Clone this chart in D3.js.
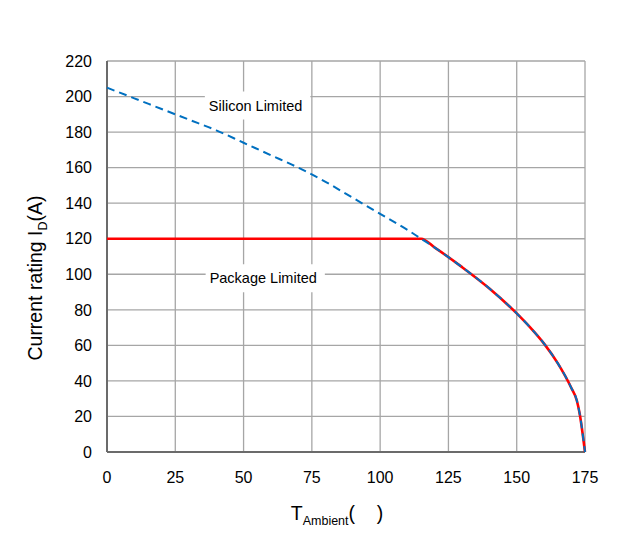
<!DOCTYPE html>
<html>
<head>
<meta charset="utf-8">
<script src="https://cdn.jsdelivr.net/npm/d3@7"></script>
<style>
  html, body { margin: 0; padding: 0; background: #fff; }
  svg { display: block; font-family: "Liberation Sans", Arial, sans-serif; }
</style>
</head>
<body>
<svg id="chart" width="644" height="546"></svg>
<script>
// ── Data ─────────────────────────────────────────────────────────────────────
const xTicks = [0, 25, 50, 75, 100, 125, 150, 175];
const yTicks = [0, 20, 40, 60, 80, 100, 120, 140, 160, 180, 200, 220];

const siliconT = [0, 10, 20, 30, 40, 50, 60, 70, 80, 90, 100, 110, 115, 120, 130, 140, 150, 155, 160, 165, 170, 172, 173, 175];
const siliconI = [205, 199, 193, 187, 181, 174, 167, 160, 152, 143, 134, 125, 120, 115, 104, 92, 78, 70, 61, 50, 36, 29, 22, 0];

const packageT = [0, 115, 120, 130, 140, 150, 155, 160, 165, 170, 172, 173, 175];
const packageI = [120, 120, 115, 104, 92, 78, 70, 61, 50, 36, 29, 22, 0];

const labels = [
  { text: "Silicon Limited", t: 54.4, i: 195 },
  { text: "Package Limited", t: 57.2, i: 97.8 },
];

// ── Layout ───────────────────────────────────────────────────────────────────
const svg = d3.select("#chart");
const plotL = 107, plotR = 585, plotT = 61, plotB = 452;

const x = d3.scaleLinear().domain([0, 175]).range([plotL, plotR]);
const y = d3.scaleLinear().domain([0, 220]).range([plotB, plotT]);

// grid
svg.append("g")
  .selectAll("line")
  .data(xTicks.slice(1))
  .join("line")
  .attr("x1", d => x(d)).attr("x2", d => x(d))
  .attr("y1", plotT).attr("y2", plotB)
  .attr("stroke", "#a6a6a6").attr("stroke-width", 1.3);

svg.append("g")
  .selectAll("line")
  .data(yTicks.slice(1))
  .join("line")
  .attr("x1", plotL).attr("x2", plotR)
  .attr("y1", d => y(d)).attr("y2", d => y(d))
  .attr("stroke", "#a6a6a6").attr("stroke-width", 1.3);

// axes
svg.append("line")
  .attr("x1", plotL).attr("x2", plotL).attr("y1", plotT).attr("y2", plotB)
  .attr("stroke", "#6b6b6b").attr("stroke-width", 2);
svg.append("line")
  .attr("x1", plotL).attr("x2", plotR).attr("y1", plotB).attr("y2", plotB)
  .attr("stroke", "#6b6b6b").attr("stroke-width", 2);

// tick labels
svg.append("g")
  .selectAll("text")
  .data(yTicks)
  .join("text")
  .attr("x", plotL - 15).attr("y", d => y(d))
  .attr("dy", "0.36em")
  .attr("text-anchor", "end")
  .attr("font-size", 16)
  .text(d => d);

svg.append("g")
  .selectAll("text")
  .data(xTicks)
  .join("text")
  .attr("x", d => x(d)).attr("y", plotB + 31)
  .attr("text-anchor", "middle")
  .attr("font-size", 16)
  .text(d => d);

// label boxes (white, cover grid)
labels.forEach(l => {
  const g = svg.append("g");
  const t = g.append("text")
    .attr("x", x(l.t)).attr("y", y(l.i))
    .attr("dy", "0.35em")
    .attr("text-anchor", "middle")
    .attr("font-size", 14.5)
    .text(l.text);
  const bb = t.node().getBBox();
  g.insert("rect", "text")
    .attr("x", bb.x - 4).attr("y", bb.y - 6)
    .attr("width", bb.width + 12).attr("height", bb.height + 12)
    .attr("fill", "#fff");
});

// curves
const line = d3.line().x(d => x(d[0])).y(d => y(d[1])).curve(d3.curveMonotoneX);

svg.append("path")
  .datum(d3.zip(packageT, packageI))
  .attr("d", line)
  .attr("fill", "none")
  .attr("stroke", "#ff0000")
  .attr("stroke-width", 2.6);

svg.append("path")
  .datum(d3.zip(siliconT, siliconI))
  .attr("d", line)
  .attr("fill", "none")
  .attr("stroke", "#0070c0")
  .attr("stroke-width", 2)
  .attr("stroke-dasharray", "8,5");

// axis titles
const yt = svg.append("text")
  .attr("transform", `translate(42,278) rotate(-90)`)
  .attr("text-anchor", "middle")
  .attr("font-size", 19.5);
yt.append("tspan").text("Current rating I");
yt.append("tspan").attr("font-size", 12.5).attr("dy", 5).text("D");
yt.append("tspan").attr("dy", -5).text("(A)");

const xt = svg.append("text")
  .attr("x", 337).attr("y", 520)
  .attr("text-anchor", "middle")
  .attr("font-size", 19.5)
  .style("white-space", "pre");
xt.append("tspan").text("T");
xt.append("tspan").attr("font-size", 12.5).attr("dy", 5).text("Ambient");
xt.append("tspan").attr("dy", -5).text("(    )");
</script>
</body>
</html>
